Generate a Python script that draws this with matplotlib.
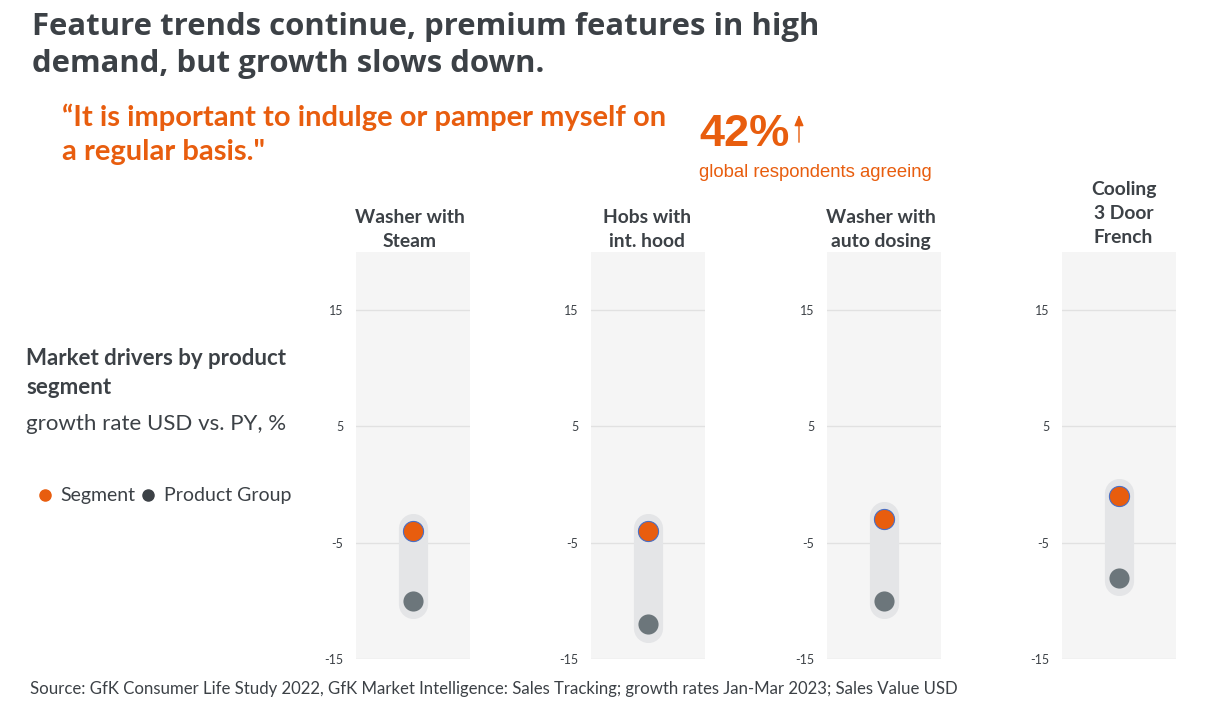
import matplotlib
matplotlib.use("Agg")
import matplotlib.pyplot as plt
from matplotlib.lines import Line2D

# ---- data ----
categories = ["Washer with\nSteam", "Hobs with\nint. hood", "Washer with\nauto dosing", "Cooling\n3 Door\nFrench"]
segment = [-4, -4, -3, -1]
product_group = [-10, -12, -10, -8]
yticks = [-15, -5, 5, 15]
ylim = (-15, 20)

title = "Feature trends continue, premium features in high\ndemand, but growth slows down."
quote = "\u201cIt is important to indulge or pamper myself on\na regular basis.\""
stat_value = "42%"
stat_label = "global respondents agreeing"
subtitle_bold = "Market drivers by product\nsegment"
subtitle = "growth rate USD vs. PY, %"
source = "Source: GfK Consumer Life Study 2022, GfK Market Intelligence: Sales Tracking; growth rates Jan-Mar 2023; Sales Value USD"

# ---- style ----
DARK = "#3c4146"
ORANGE = "#e85d0e"
GREY_DOT = "#6c767b"
PILL = "#e4e5e7"
PANEL_BG = "#f5f5f5"
GRID = "#e1e1e1"
plt.rcParams["font.family"] = ["Lato", "DejaVu Sans"]

W, H = 1207, 709
fig = plt.figure(figsize=(W / 100, H / 100), dpi=100)

def fx(px):
    return px / W

def fy(py):
    return 1 - py / H

panel_lefts = [356, 591, 827, 1062]
panel_w = 114
panel_top, panel_bot = 252, 659
title_x = [0.47, 0.49, 0.47, 0.54]

for i, cat in enumerate(categories):
    ax = fig.add_axes([fx(panel_lefts[i]), fy(panel_bot), panel_w / W, (panel_bot - panel_top) / H])
    ax.set_facecolor(PANEL_BG)
    ax.set_xlim(-1, 1)
    ax.set_ylim(*ylim)
    ax.set_yticks(yticks)
    ax.set_yticklabels([str(t) for t in yticks])
    ax.set_xticks([])
    ax.tick_params(axis="y", length=0, pad=9, labelsize=9, labelcolor=DARK)
    for s in ax.spines.values():
        s.set_visible(False)
    ax.grid(axis="y", color=GRID, linewidth=1)
    ax.set_axisbelow(True)
    lo = min(segment[i], product_group[i])
    hi = max(segment[i], product_group[i])
    ax.plot([0, 0], [lo - 0.3, hi + 0.3], color=PILL, linewidth=21, solid_capstyle="round", zorder=2)
    ax.scatter([0], [product_group[i]], s=210, color=GREY_DOT, zorder=3, linewidths=0)
    ax.scatter([0], [segment[i]], s=210, color=ORANGE, edgecolors="#4a6fc4", linewidths=0.8, zorder=4)
    ty = 1.015 if len(cat.split("\n")) > 2 else 1.005
    ax.text(title_x[i], ty, cat, transform=ax.transAxes, ha="center", va="bottom",
            fontsize=13.9, fontweight="bold", color=DARK, linespacing=1.5)

# titles
fig.text(fx(32), fy(72), title, ha="left", va="baseline", fontsize=22.45, fontweight="bold",
         color=DARK, linespacing=1.32, family=["Open Sans", "DejaVu Sans"])
fig.text(fx(62), fy(160), quote, ha="left", va="baseline", fontsize=21, fontweight="bold",
         color=ORANGE, linespacing=1.38)
fig.text(fx(699), fy(146), stat_value, ha="left", va="baseline", fontsize=32.5, fontweight="bold",
         color=ORANGE, family=["Liberation Sans", "DejaVu Sans"])
fig.text(fx(699), fy(177), stat_label, ha="left", va="baseline", fontsize=13.3,
         color=ORANGE, family=["Liberation Sans", "DejaVu Sans"])
fig.add_artist(matplotlib.patches.FancyArrowPatch((fx(799), fy(145)), (fx(799), fy(112)),
               transform=fig.transFigure, arrowstyle="-|>,head_length=2.6,head_width=1.1",
               color=ORANGE, linewidth=1.0, mutation_scale=2.5))

# left annotations
fig.text(fx(26), fy(394), subtitle_bold, ha="left", va="baseline", fontsize=16, fontweight="bold",
         color=DARK, linespacing=1.45)
fig.text(fx(26), fy(430), subtitle, ha="left", va="baseline", fontsize=16, color=DARK)

handles = [Line2D([], [], marker="o", linestyle="none", markersize=8, color=ORANGE),
           Line2D([], [], marker="o", linestyle="none", markersize=8, color=DARK)]
fig.legend(handles, ["Segment", "Product Group"], loc="center left",
           bbox_to_anchor=(fx(37), fy(496)), ncol=2, frameon=False, fontsize=14,
           handlelength=0.8, handletextpad=0.4, columnspacing=0.25, labelcolor=DARK,
           borderaxespad=0, borderpad=0)

fig.text(fx(30), fy(694), source, ha="left", va="baseline", fontsize=12.1, color=DARK)

fig.savefig("out.png", dpi=100)
